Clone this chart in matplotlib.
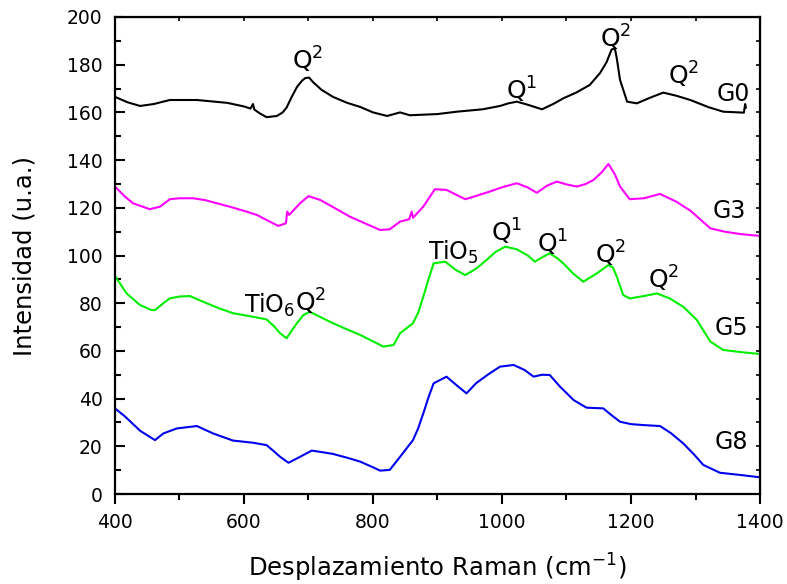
import numpy as np
import matplotlib
matplotlib.use("Agg")
import matplotlib.pyplot as plt

plt.rcParams['font.family'] = ['DejaVu Sans']
plt.rcParams['mathtext.default'] = 'regular'

# spectra (Raman shift cm-1, intensity a.u.)
g0_x = [400, 420, 439, 460, 485, 527, 574, 600, 610, 614, 616, 625, 635, 651, 660, 666,
        674, 682, 690, 695, 701, 707, 720, 738, 760, 780, 800, 822, 842, 857, 900, 930,
        970, 997, 1010, 1023, 1040, 1062, 1080, 1095, 1115, 1136, 1152, 1162, 1170, 1175,
        1178, 1183, 1194, 1209, 1230, 1250, 1270, 1292, 1320, 1343, 1375, 1377, 1378]
g0_y = [166.5, 164.2, 162.7, 163.5, 165.2, 165.2, 164.0, 162.5, 161.6, 163.5, 161.2, 159.5,
        158.0, 158.5, 160.0, 162.0, 166.5, 170.6, 173.3, 174.4, 174.6, 172.7, 169.5, 166.5,
        164.0, 162.3, 160.0, 158.5, 160.0, 158.8, 159.3, 160.3, 161.3, 162.7, 163.8, 164.5,
        163.2, 161.3, 163.6, 165.9, 168.3, 171.5, 176.5, 181.0, 186.4, 186.8, 182.6, 173.6,
        164.5, 163.8, 166.2, 168.3, 167.0, 165.2, 162.2, 160.3, 159.9, 163.5, 162.0]

g3_x = [400, 415, 428, 454, 470, 485, 500, 521, 540, 558, 580, 604, 620, 635, 653, 665,
        667, 670, 687, 700, 718, 740, 764, 790, 811, 826, 842, 856, 860, 862, 878, 896, 914,
        943, 960, 981, 1000, 1023, 1040, 1054, 1070, 1085, 1100, 1116, 1130, 1142, 1155,
        1165, 1175, 1183, 1198, 1220, 1245, 1270, 1292, 1310, 1323, 1345, 1369, 1400]
g3_y = [128.9, 124.8, 121.9, 119.4, 120.5, 123.6, 124.0, 124.0, 123.2, 121.9, 120.3, 118.4,
        117.0, 114.9, 112.4, 113.5, 118.4, 117.0, 121.9, 124.9, 123.3, 120.0, 116.3, 113.2,
        110.7, 111.0, 114.2, 115.2, 118.4, 115.8, 120.5, 127.8, 127.5, 123.6, 125.0, 126.8,
        128.6, 130.3, 128.5, 126.3, 129.3, 131.0, 129.8, 128.9, 130.0, 131.7, 135.0, 138.4,
        134.0, 128.9, 123.6, 124.0, 125.8, 122.6, 118.8, 114.5, 111.4, 110.0, 109.0, 108.2]

g5_x = [400, 418, 439, 457, 462, 475, 485, 500, 516, 542, 560, 583, 614, 635, 646, 656,
        666, 674, 682, 692, 702, 720, 738, 760, 780, 800, 816, 832, 842, 862, 870, 878,
        886, 894, 912, 928, 943, 960, 976, 990, 1005, 1023, 1040, 1051, 1062, 1074, 1085,
        1095, 1110, 1126, 1147, 1165, 1172, 1178, 1188, 1198, 1220, 1240, 1260, 1281,
        1302, 1323, 1343, 1370, 1400]
g5_y = [91.4, 84.1, 79.2, 77.1, 77.1, 80.0, 82.0, 82.8, 83.0, 80.0, 78.0, 75.8, 74.3, 73.2,
        70.5, 67.4, 65.3, 68.5, 71.6, 75.0, 76.4, 74.0, 71.6, 69.0, 66.7, 64.0, 61.8, 62.5,
        67.4, 71.6, 76.0, 82.7, 90.0, 96.7, 97.4, 94.0, 91.8, 94.5, 98.1, 101.5, 103.7,
        102.6, 100.0, 97.4, 99.2, 100.9, 99.0, 96.7, 92.5, 89.0, 92.5, 96.0, 95.0, 91.1,
        83.4, 82.0, 83.0, 84.1, 82.0, 78.5, 73.0, 63.9, 60.4, 59.5, 58.7]

g8_x = [400, 416, 439, 462, 475, 496, 527, 552, 583, 614, 635, 646, 656, 669, 687, 705,
        720, 738, 760, 780, 800, 811, 826, 842, 862, 870, 878, 886, 894, 914, 930, 945,
        960, 981, 997, 1018, 1035, 1049, 1062, 1074, 1090, 1111, 1131, 1157, 1170, 1183,
        1200, 1219, 1245, 1262, 1281, 1298, 1312, 1338, 1369, 1400]
g8_y = [35.9, 32.4, 26.5, 22.6, 25.4, 27.5, 28.5, 25.4, 22.4, 21.5, 20.5, 18.0, 15.6, 13.1,
        15.6, 18.2, 17.6, 16.8, 15.2, 13.6, 11.2, 9.8, 10.1, 15.6, 22.6, 27.5, 33.8, 40.5,
        46.4, 49.2, 45.5, 42.2, 46.5, 50.6, 53.4, 54.1, 52.0, 49.2, 50.0, 49.9, 45.0, 39.4,
        36.2, 35.9, 33.0, 30.3, 29.3, 28.9, 28.5, 25.5, 21.2, 16.5, 12.2, 8.9, 8.0, 7.0]

series = [(g0_x, g0_y, 'black'), (g3_x, g3_y, '#ff00ff'),
          (g5_x, g5_y, '#00ee00'), (g8_x, g8_y, '#0000ee')]

# sample names and band assignments
names = ['G0', 'G3', 'G5', 'G8']
name_pos = [(1358, 167.7), (1352, 118.7), (1355, 69.6), (1355, 21.8)]
bands = ['Q$^2$', 'Q$^1$', 'Q$^2$', 'Q$^2$',
         'Q$^1$', 'Q$^1$', 'Q$^2$', 'Q$^2$', 'Q$^2$']
band_pos = [(698, 182), (1030, 169.4), (1176, 191.2), (1281, 175.7),
            (1008, 109.9), (1078, 105.2), (1168, 100.6), (1250, 90.1), (703, 80.5)]
tio = ['TiO$_5$', 'TiO$_6$']
tio_pos = [(925, 101.5), (640, 79.0)]

fig = plt.figure(figsize=(7.87, 5.84), dpi=100)
ax = fig.add_axes([0.1461, 0.1541, 0.8196, 0.8168])

for x, y, c in series:
    ax.plot(x, y, color=c, linewidth=1.5)

for s, (x, y) in zip(names, name_pos):
    ax.text(x, y, s, fontsize=17, ha='center', va='center')
for s, (x, y) in zip(bands, band_pos):
    ax.text(x, y, s, fontsize=18, ha='center', va='center')
for s, (x, y) in zip(tio, tio_pos):
    ax.text(x, y, s, fontsize=17, ha='center', va='center')

ax.set_xlim(400, 1400)
ax.set_ylim(0, 200)
ax.set_xticks(range(400, 1401, 200))
ax.set_xticks(range(500, 1400, 200), minor=True)
ax.set_yticks(range(0, 201, 20))
ax.set_yticks(range(10, 200, 20), minor=True)
ax.tick_params(axis='x', which='major', direction='out', length=7, width=1.5,
               labelsize=13.5, pad=7)
ax.tick_params(axis='x', which='minor', direction='out', length=4, width=1.5)
ax.tick_params(axis='y', which='major', direction='in', length=7, width=1.5,
               labelsize=13.5, pad=9)
ax.tick_params(axis='y', which='minor', direction='in', length=4, width=1.5)
for sp in ax.spines.values():
    sp.set_linewidth(1.6)

# short inward ticks on the top and right edges
top = ax.secondary_xaxis('top')
top.set_xticks(range(400, 1401, 100))
top.tick_params(direction='in', length=3, width=1.2, labeltop=False)
right = ax.secondary_yaxis('right')
right.set_yticks(range(0, 201, 10))
right.tick_params(direction='in', length=3, width=1.2, labelright=False)

ax.set_xlabel('Desplazamiento Raman (cm$^{-1}$)', fontsize=17.5, labelpad=14)
ax.set_ylabel('Intensidad (u.a.)', fontsize=17.5, labelpad=22)

fig.savefig('out.png', dpi=100)
